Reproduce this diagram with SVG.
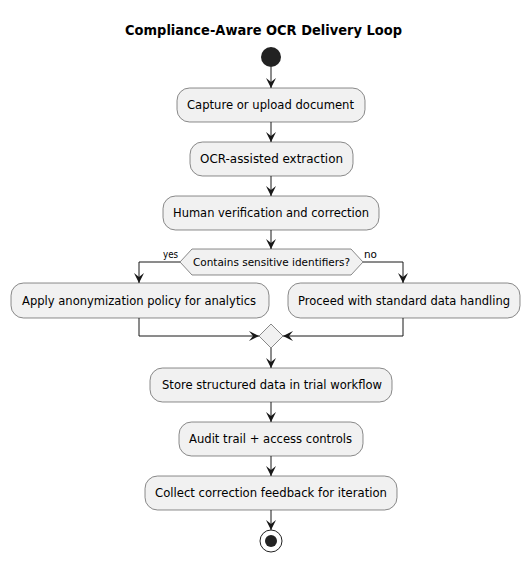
<svg xmlns="http://www.w3.org/2000/svg" width="530" height="562" viewBox="0 0 530 562">
<defs>
<style>
.box{fill:#F1F1F1;stroke:#181818;stroke-width:0.5}
.t{font-family:"DejaVu Sans","Liberation Sans",sans-serif;font-size:12px;fill:#000}
.s{font-family:"DejaVu Sans","Liberation Sans",sans-serif;font-size:11px;fill:#000}
.title{font-family:"DejaVu Sans","Liberation Sans",sans-serif;font-size:14px;font-weight:bold;fill:#000}
.ln{fill:none;stroke:#181818;stroke-width:1}
</style>
<marker id="ah" viewBox="0 0 10 10" refX="10" refY="5" markerWidth="10" markerHeight="10" markerUnits="userSpaceOnUse" orient="auto">
<path d="M0,0 L10,5 L0,10 L4,5 Z" fill="#181818"/>
</marker>
</defs>
<rect width="530" height="562" fill="#FFFFFF"/>
<text class="title" x="125" y="35" textLength="277" lengthAdjust="spacingAndGlyphs">Compliance-Aware OCR Delivery Loop</text>

<g id="connectors">
<path class="ln" d="M271,67 L271,88" marker-end="url(#ah)"/>
<path class="ln" d="M271,122 L271,142" marker-end="url(#ah)"/>
<path class="ln" d="M271,176 L271,196" marker-end="url(#ah)"/>
<path class="ln" d="M271,230 L271,249" marker-end="url(#ah)"/>
<path class="ln" d="M180,262 L139,262 L139,283" marker-end="url(#ah)"/>
<path class="ln" d="M363,262 L403,262 L403,283" marker-end="url(#ah)"/>
<path class="ln" d="M139,318 L139,336 L259,336" marker-end="url(#ah)"/>
<path class="ln" d="M403,318 L403,336 L283,336" marker-end="url(#ah)"/>
<path class="ln" d="M271,348 L271,368" marker-end="url(#ah)"/>
<path class="ln" d="M271,402 L271,422" marker-end="url(#ah)"/>
<path class="ln" d="M271,456 L271,476" marker-end="url(#ah)"/>
<path class="ln" d="M271,510 L271,530" marker-end="url(#ah)"/>
<text class="s" x="163" y="258" textLength="15" lengthAdjust="spacingAndGlyphs">yes</text>
<text class="s" x="364" y="258" textLength="13" lengthAdjust="spacingAndGlyphs">no</text>
</g>

<g id="start"><circle cx="271" cy="57" r="10" fill="#222222"/></g>

<g id="capture">
<rect class="box" x="177" y="88" width="188" height="34" rx="12.5"/>
<text class="t" x="187" y="109" textLength="167" lengthAdjust="spacingAndGlyphs">Capture or upload document</text>
</g>
<g id="ocr">
<rect class="box" x="190" y="142" width="163" height="34" rx="12.5"/>
<text class="t" x="200" y="163" textLength="143" lengthAdjust="spacingAndGlyphs">OCR-assisted extraction</text>
</g>
<g id="human">
<rect class="box" x="163" y="196" width="216" height="34" rx="12.5"/>
<text class="t" x="173" y="217" textLength="196" lengthAdjust="spacingAndGlyphs">Human verification and correction</text>
</g>
<g id="decision">
<polygon class="box" points="180,262 192,249 351,249 363,262 351,275 192,275"/>
<text class="s" x="193" y="266" textLength="157" lengthAdjust="spacingAndGlyphs">Contains sensitive identifiers?</text>
</g>
<g id="anonymize">
<rect class="box" x="11" y="283" width="258" height="35" rx="12.5"/>
<text class="t" x="22" y="305" textLength="234" lengthAdjust="spacingAndGlyphs">Apply anonymization policy for analytics</text>
</g>
<g id="standard">
<rect class="box" x="288" y="283" width="232" height="35" rx="12.5"/>
<text class="t" x="298" y="305" textLength="212" lengthAdjust="spacingAndGlyphs">Proceed with standard data handling</text>
</g>
<g id="merge">
<polygon class="box" points="271,324 283,336 271,348 259,336"/>
</g>
<g id="store">
<rect class="box" x="150" y="368" width="242" height="34" rx="12.5"/>
<text class="t" x="162" y="389" textLength="220" lengthAdjust="spacingAndGlyphs">Store structured data in trial workflow</text>
</g>
<g id="audit">
<rect class="box" x="179" y="422" width="184" height="34" rx="12.5"/>
<text class="t" x="189" y="443" textLength="163" lengthAdjust="spacingAndGlyphs">Audit trail + access controls</text>
</g>
<g id="collect">
<rect class="box" x="145" y="476" width="252" height="34" rx="12.5"/>
<text class="t" x="155" y="497" textLength="232" lengthAdjust="spacingAndGlyphs">Collect correction feedback for iteration</text>
</g>
<g id="end">
<circle cx="271" cy="541" r="11" fill="none" stroke="#222222" stroke-width="1"/>
<circle cx="271" cy="541" r="6" fill="#222222"/>
</g>
</svg>
